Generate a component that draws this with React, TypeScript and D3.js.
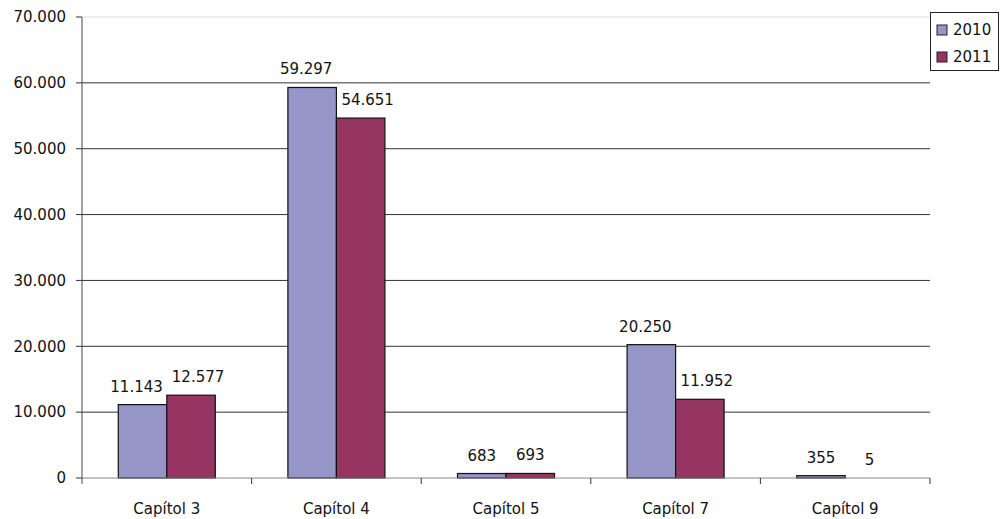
import React from "react";
import * as d3 from "d3";

const categories = ["Capítol 3", "Capítol 4", "Capítol 5", "Capítol 7", "Capítol 9"];
const seriesNames = ["2010", "2011"];
const values2010 = [11143, 59297, 683, 20250, 355];
const values2011 = [12577, 54651, 693, 11952, 5];
const yTicks = [0, 10000, 20000, 30000, 40000, 50000, 60000, 70000];
const colors = ["#9595C8", "#963562"];

const fmt = (v: number) => {
  const s = String(Math.round(v));
  return s.replace(/\B(?=(\d{3})+(?!\d))/g, ".");
};

export default function App() {
  const W = 1000, H = 519;
  const left = 82, right = 930, top = 17, bottom = 478;
  const x = d3.scaleBand<string>().domain(categories).range([left, right]).paddingInner(0).paddingOuter(0);
  const y = d3.scaleLinear().domain([0, 70000]).range([bottom, top]);
  const bw = x.bandwidth();
  const barW = bw * 0.286;
  const font = "'DejaVu Sans', sans-serif";
  const series = [values2010, values2011];
  return (
    <svg width={W} height={H} style={{ position: "absolute", left: 0, top: 0, background: "#fff" }} fontFamily={font}>
      {yTicks.map((t) => (
        <g key={t}>
          {t > 0 && (
            <line x1={left} x2={right} y1={y(t)} y2={y(t)} stroke={t === 70000 ? "#ddd" : "#333"} strokeWidth={1} />
          )}
          <line x1={left - 6} x2={left} y1={y(t)} y2={y(t)} stroke="#333" />
          <text x={66} y={y(t)} dy="0.35em" textAnchor="end" fontSize={15} fill="#111">{fmt(t)}</text>
        </g>
      ))}
      {categories.map((c, i) => {
        const cx = (x(c) as number) + bw / 2;
        const wide = fmt(values2010[i]).length > 4 && fmt(values2011[i]).length > 4;
        return (
          <g key={c}>
            {series.map((vals, s) => {
              const bx = cx - barW + s * barW;
              const by = y(vals[i]);
              const h = bottom - by;
              const shift = wide ? (s === 0 ? -6 : 7) : 0;
              return (
                <g key={s}>
                  {h >= 1 && (
                    <rect x={bx} y={by} width={barW} height={h} fill={colors[s]} stroke="#111" strokeWidth={1.2} />
                  )}
                  <text x={bx + barW / 2 + shift} y={by - 13} textAnchor="middle" fontSize={15} fill="#111">{fmt(vals[i])}</text>
                </g>
              );
            })}
            <text x={cx} y={514} textAnchor="middle" fontSize={15} fill="#111">{c}</text>
          </g>
        );
      })}
      <line x1={left} x2={right} y1={bottom} y2={bottom} stroke="#888" />
      {categories.map((c) => (
        <line key={c} x1={(x(c) as number) + bw} x2={(x(c) as number) + bw} y1={bottom} y2={bottom + 6} stroke="#333" />
      ))}
      <line x1={left} x2={left} y1={top} y2={bottom + 6} stroke="#444" />
      <g>
        <rect x={930.5} y={12.5} width={68} height={58} fill="#fff" stroke="#222" />
        {seriesNames.map((n, i) => (
          <g key={n}>
            <rect x={937} y={25 + i * 27} width={10} height={10} fill={colors[i]} stroke="#222" />
            <text x={953} y={30 + i * 27} dy="0.35em" fontSize={15} fill="#111">{n}</text>
          </g>
        ))}
      </g>
    </svg>
  );
}
